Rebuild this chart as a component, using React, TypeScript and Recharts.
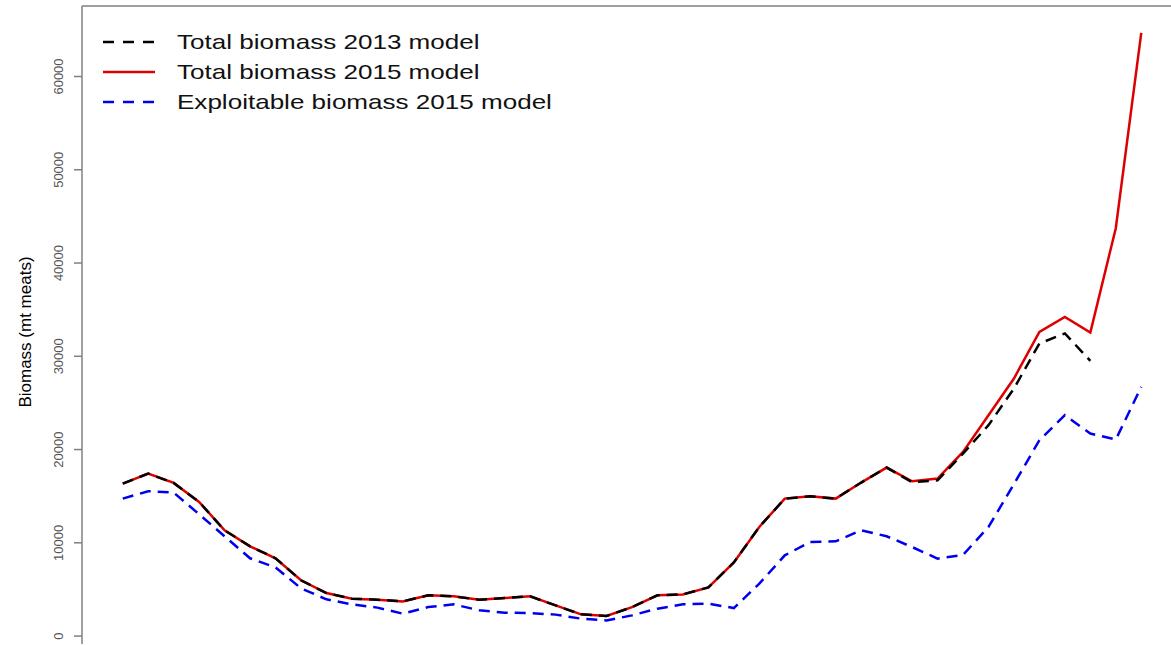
import { LineChart, Line, XAxis, YAxis, Legend, ReferenceLine } from 'recharts';

// years 1975-2015
const years = [
  1975, 1976, 1977, 1978, 1979, 1980, 1981, 1982, 1983, 1984,
  1985, 1986, 1987, 1988, 1989, 1990, 1991, 1992, 1993, 1994,
  1995, 1996, 1997, 1998, 1999, 2000, 2001, 2002, 2003, 2004,
  2005, 2006, 2007, 2008, 2009, 2010, 2011, 2012, 2013, 2014, 2015,
];

// total biomass, 2013 assessment (ends 2013)
const total2013 = [
  16350, 17420, 16420, 14380, 11340, 9620, 8340, 5980, 4610, 4010,
  3900, 3720, 4370, 4260, 3900, 4080, 4260, 3290, 2330, 2150,
  3110, 4370, 4470, 5220, 7900, 11700, 14740, 14990, 14740, 16460,
  18070, 16500, 16700, 19570, 22610, 26540, 31370, 32450, 29510,
];

// total biomass, 2015 assessment
const total2015 = [
  16350, 17420, 16420, 14380, 11340, 9620, 8340, 5980, 4610, 4010,
  3900, 3720, 4370, 4260, 3900, 4080, 4260, 3290, 2330, 2150,
  3110, 4370, 4470, 5220, 7900, 11700, 14740, 14990, 14740, 16460,
  18070, 16600, 16890, 19740, 23680, 27620, 32620, 34230, 32550, 43730, 64680,
];

// exploitable biomass, 2015 assessment
const exploit2015 = [
  14740, 15530, 15390, 13060, 10700, 8340, 7370, 5120, 3940, 3400,
  3050, 2400, 3110, 3400, 2760, 2510, 2470, 2300, 1870, 1680,
  2220, 2940, 3400, 3480, 3000, 5620, 8660, 10090, 10160, 11340,
  10700, 9550, 8300, 8700, 11700, 16300, 21000, 23680, 21720, 21070, 26720,
];

const yTicks = [0, 10000, 20000, 30000, 40000, 50000, 60000];
const yMax = 67560;
const yMin = -850;

const series = [
  { key: 'b13', name: 'Total biomass 2013 model', color: '#000000', dash: '11 7' },
  { key: 'b15', name: 'Total biomass 2015 model', color: '#dd0000', dash: undefined },
  { key: 'ex15', name: 'Exploitable biomass 2015 model', color: '#0000ee', dash: '11 7' },
];

const data = years.map((year, i) => ({
  year,
  b13: total2013[i],
  b15: total2015[i],
  ex15: exploit2015[i],
}));

const RotatedTick = ({ x, y, payload }: any) => (
  <g transform={`translate(${x},${y}) rotate(-90)`}>
    <text x={0} y={-11} textAnchor="middle" fontSize={13} fill="#555" fontFamily="Liberation Sans, Arial, sans-serif">
      {payload.value}
    </text>
  </g>
);

const LegendBox = () => (
  <div style={{ fontFamily: 'Liberation Sans, Arial, sans-serif', fontSize: 21, color: '#111' }}>
    {series.map((s) => (
      <div key={s.key} style={{ display: 'flex', alignItems: 'center', height: 30 }}>
        <svg width={52} height={6} style={{ display: 'block' }}>
          <line x1={0} y1={3} x2={52} y2={3} stroke={s.color} strokeWidth={2.5} strokeDasharray={s.dash ? '11 9' : undefined} />
        </svg>
        <span style={{ marginLeft: 22, display: 'inline-block', transform: 'scaleX(1.24)', transformOrigin: 'left center', whiteSpace: 'nowrap' }}>
          {s.name}
        </span>
      </div>
    ))}
  </div>
);

export default function App() {
  return (
    <div style={{ position: 'absolute', left: 0, top: 0, width: 1171, height: 645, overflow: 'hidden', background: '#fff' }}>
      <LineChart width={1200} height={700} data={data} margin={{ top: 6, right: 18, left: 0, bottom: 56 }}>
        <XAxis dataKey="year" type="number" domain={[1973.4, 2016.6]} allowDataOverflow hide />
        <YAxis
          width={82}
          domain={[yMin, yMax]}
          ticks={yTicks}
          allowDataOverflow
          interval={0}
          tickSize={8}
          tickMargin={0}
          tick={<RotatedTick />}
          stroke="#808080"
          strokeWidth={1.5}
          label={{
            content: () => (
              <text transform="translate(31,332) rotate(-90)" textAnchor="middle" fontSize={17} fill="#000" fontFamily="Liberation Sans, Arial, sans-serif">
                Biomass (mt meats)
              </text>
            ),
          }}
        />
        <ReferenceLine y={yMax} stroke="#808080" strokeWidth={1.5} />
        <Legend
          layout="vertical"
          align="center"
          verticalAlign="middle"
          content={<LegendBox />}
          wrapperStyle={{ position: 'absolute', top: 27, left: 103, width: 'auto' }}
        />
        <Line type="linear" dataKey="b15" name={series[1].name} stroke={series[1].color} strokeWidth={2.5} dot={false} isAnimationActive={false} />
        <Line type="linear" dataKey="b13" name={series[0].name} stroke={series[0].color} strokeWidth={2.5} strokeDasharray={series[0].dash} dot={false} isAnimationActive={false} />
        <Line type="linear" dataKey="ex15" name={series[2].name} stroke={series[2].color} strokeWidth={2.5} strokeDasharray={series[2].dash} dot={false} isAnimationActive={false} />
      </LineChart>
    </div>
  );
}
